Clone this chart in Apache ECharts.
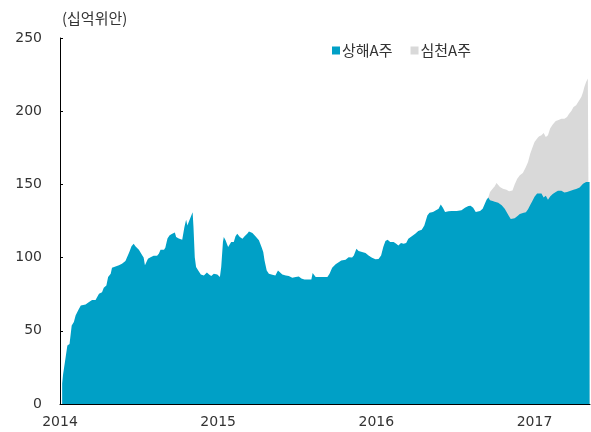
<!DOCTYPE html>
<html>
<head>
<meta charset="utf-8">
<script src="https://cdn.jsdelivr.net/npm/echarts@6/dist/echarts.min.js"></script>
<style>html,body{margin:0;padding:0;background:#fff;}#c{width:591px;height:432px;}</style>
</head>
<body>
<div id="c"></div>
<script>
// ---- data ----
const unitLabel = '(십억위안)';
const seriesNames = ['상해A주', '심천A주'];
const yTicks = [0, 50, 100, 150, 200, 250];
const xYears = [2014, 2015, 2016, 2017];
const xMinDate = '2014-01-01';
const xMaxDate = '2017-05-09';

const dates = [
'2014-01-06','2014-01-08','2014-01-14','2014-01-18','2014-01-23','2014-01-28','2014-02-02','2014-02-06','2014-02-12','2014-02-18',
'2014-02-21','2014-03-01','2014-03-09','2014-03-16','2014-03-24','2014-03-28','2014-04-01','2014-04-08','2014-04-12','2014-04-18',
'2014-04-22','2014-04-28','2014-05-01','2014-05-05','2014-05-17','2014-05-24','2014-06-01','2014-06-05','2014-06-10','2014-06-15',
'2014-06-20','2014-06-24','2014-07-02','2014-07-10','2014-07-13','2014-07-16','2014-07-19','2014-07-23','2014-07-29','2014-08-05',
'2014-08-13','2014-08-17','2014-08-21','2014-08-29','2014-09-01','2014-09-06','2014-09-11','2014-09-17','2014-09-23','2014-09-26',
'2014-10-02','2014-10-10','2014-10-14','2014-10-15','2014-10-19','2014-10-22','2014-10-25','2014-10-29','2014-11-03','2014-11-05',
'2014-11-08','2014-11-11','2014-11-16','2014-11-22','2014-11-29','2014-12-06','2014-12-11','2014-12-16','2014-12-22','2014-12-30',
'2015-01-05','2015-01-08','2015-01-12','2015-01-14','2015-01-18','2015-01-24','2015-01-28','2015-01-31','2015-02-06','2015-02-10',
'2015-02-14','2015-02-20','2015-02-26','2015-03-03','2015-03-09','2015-03-13','2015-03-21','2015-03-28','2015-04-05','2015-04-11',
'2015-04-15','2015-04-18','2015-04-23','2015-04-28','2015-05-06','2015-05-13','2015-05-19','2015-05-23','2015-05-29','2015-06-06',
'2015-06-13','2015-06-21','2015-06-29','2015-07-06','2015-07-12','2015-07-19','2015-07-29','2015-08-04','2015-08-07','2015-08-11',
'2015-08-14','2015-08-25','2015-09-10','2015-09-15','2015-09-21','2015-09-29','2015-10-06','2015-10-12','2015-10-22','2015-10-29',
'2015-11-06','2015-11-10','2015-11-16','2015-11-21','2015-11-29','2015-12-07','2015-12-14','2015-12-22','2015-12-30','2016-01-06',
'2016-01-12','2016-01-17','2016-01-22','2016-01-27','2016-02-02','2016-02-10','2016-02-16','2016-02-21','2016-02-27','2016-03-04',
'2016-03-10','2016-03-15','2016-03-23','2016-03-31','2016-04-07','2016-04-15','2016-04-21','2016-04-25','2016-04-28','2016-05-03',
'2016-05-11','2016-05-18','2016-05-24','2016-05-29','2016-06-03','2016-06-08','2016-06-16','2016-06-23','2016-07-05','2016-07-16',
'2016-07-24','2016-08-01','2016-08-06','2016-08-12','2016-08-18','2016-08-28','2016-09-03','2016-09-08','2016-09-12','2016-09-16',
'2016-09-20','2016-09-26','2016-10-01','2016-10-05','2016-10-09','2016-10-13','2016-10-17','2016-10-20','2016-10-24','2016-10-28',
'2016-11-03','2016-11-07','2016-11-11','2016-11-16','2016-11-22','2016-11-28','2016-12-05','2016-12-12','2016-12-17','2016-12-22',
'2016-12-27','2017-01-01','2017-01-07','2017-01-11','2017-01-17','2017-01-22','2017-01-27','2017-02-01','2017-02-06','2017-02-12',
'2017-02-19','2017-02-24','2017-03-04','2017-03-11','2017-03-17','2017-03-21','2017-03-27','2017-04-01','2017-04-07','2017-04-11',
'2017-04-15','2017-04-19','2017-04-23','2017-04-26','2017-04-30','2017-05-04','2017-05-08'
];

const shanghai = [
14,20,32,40,41,53.6,56,60.5,64,67.3,
68.5,68,69.6,71,71,72.3,75.3,76.4,79.4,81,
86.7,89,93,94,94.7,95.8,97.6,98.6,103.8,107.7,
109.5,107.7,105.4,101.5,100,94.7,95.8,99.2,100.3,101.3,
101.3,102.7,105.4,105.4,106.8,113,115.2,116.3,117.2,114,
113,112.2,111.3,120.8,125.9,122,124.3,123.2,131,121,
100.3,93.5,91.2,88.5,87.8,89.9,88.5,87.4,89,88.5,
86.7,93.5,110.6,114,111.8,107.2,107.2,110.6,110.6,114.5,
116.3,114,112.9,114.5,116.3,117.9,116.8,114.5,111.8,107.2,
103.8,98.1,91.2,89,88.3,87.8,91.2,90,88.5,87.8,
87.4,86.2,86.7,87.1,85.8,85.1,85.1,85.1,89.4,89.6,
86.7,86.7,86.7,89,93.1,95.4,96.9,98.1,98.6,100.3,
100,101.5,106.1,104.5,103.8,103.1,101.5,99.9,98.8,99.1,
101.5,107.2,111.3,112.2,110.6,110.6,109.5,108.3,109.9,109.5,
109.9,112.9,114.5,116.3,118.1,119,122,123.2,128.8,130.7,
131.1,132.3,133.4,136.2,134.1,131.1,131.6,131.8,131.8,132.3,
134.1,135.2,135.4,134.1,131.1,131.8,133.4,136.8,139.6,141,
139.1,138.6,138.2,137.9,137.5,136.8,135.7,134.5,133.4,132.2,
128.2,126.3,126.2,126.8,128.2,129.7,130.4,131,133,136,
138.6,141.5,143.8,144.4,143.8,141,142.3,139.5,141.8,143.4,
144.8,145.6,145.6,144.4,144.8,145.4,145.8,146.4,146.9,145.9,
147.8,149,150.5,151,151.6,151.6,151.6
];

// 심천A주: values from this date onward (stacked on top of 상해A주)
const shenzhenStart = '2016-09-16';
const shenzhen = [
0,5.7,8.5,10.5,13.0,13.4,11.4,11.9,12.6,13.4,14.2,
17.2,17.8,19.7,23.2,25.7,26.5,27.4,30.9,32.3,35,
36.5,37.5,37.5,38.4,39.7,44.1,40.1,44,46.3,47.6,
48.5,48.2,49.3,50.5,51.2,52.5,54.3,56.5,57.1,58.8,
60.1,60.7,62.6,65.5,68.3,70.7,71.8
];

const colors = ['#00A0C6', '#D9D9D9'];

// ---- helpers ----
function toYear(s) {
  const [y, m, d] = s.split('-').map(Number);
  const t = Date.UTC(y, m - 1, d), a = Date.UTC(y, 0, 1), b = Date.UTC(y + 1, 0, 1);
  return y + (t - a) / (b - a);
}
const xs = dates.map(toYear);
const szOffset = dates.indexOf(shenzhenStart);
// stacked total (상해 + 심천); the 심천 band is the part above 상해
const totals = dates.map((d, i) => i >= szOffset ? shanghai[i] + shenzhen[i - szOffset] : null);

const font = "'DejaVu Sans', 'Noto Sans CJK KR', sans-serif";
const krFont = "'Noto Sans CJK KR', 'DejaVu Sans', sans-serif";

const chart = echarts.init(document.getElementById('c'), null, {renderer: 'canvas'});
chart.setOption({
  animation: false,
  backgroundColor: '#fff',
  textStyle: {fontFamily: font},
  title: {
    text: unitLabel, left: 57, top: 6,
    textStyle: {fontSize: 15, fontWeight: 'normal', color: '#333', fontFamily: krFont}
  },
  legend: {
    left: 327, top: 38, itemWidth: 8, itemHeight: 8, itemGap: 18,
    icon: 'rect',
    textStyle: {fontSize: 15, color: '#333', fontFamily: krFont, padding: [0, 0, 0, -3]},
    data: seriesNames
  },
  grid: {left: 60, right: 1, top: 38, bottom: 28, containLabel: false},
  xAxis: {
    type: 'value',
    min: toYear(xMinDate), max: toYear(xMaxDate), interval: 1,
    axisLine: {lineStyle: {color: '#000', width: 1}},
    axisTick: {inside: true, length: 4, lineStyle: {color: '#000'}},
    splitLine: {show: false},
    axisLabel: {
      fontSize: 14, color: '#333', margin: 11, fontFamily: font,
      showMaxLabel: false,
      formatter: v => xYears.indexOf(Math.round(v)) >= 0 ? String(Math.round(v)) : ''
    }
  },
  yAxis: {
    type: 'value', min: yTicks[0], max: yTicks[yTicks.length - 1], interval: 50,
    axisLine: {show: true, lineStyle: {color: '#000', width: 1}},
    axisTick: {show: true, inside: true, length: 3, lineStyle: {color: '#000'}},
    splitLine: {show: false},
    axisLabel: {fontSize: 14, color: '#333', margin: 18, fontFamily: font}
  },
  series: [
    {
      name: seriesNames[0], type: 'line', symbol: 'none', sampling: 'none', z: 3,
      lineStyle: {width: 0}, areaStyle: {color: colors[0], opacity: 1},
      itemStyle: {color: colors[0]},
      data: xs.map((x, i) => [x, shanghai[i]])
    },
    {
      name: seriesNames[1], type: 'line', symbol: 'none', sampling: 'none', z: 2,
      lineStyle: {width: 0}, areaStyle: {color: colors[1], opacity: 1},
      itemStyle: {color: colors[1]},
      data: xs.map((x, i) => [x, totals[i]]).filter(p => p[1] !== null)
    }
  ]
});
</script>
</body>
</html>
